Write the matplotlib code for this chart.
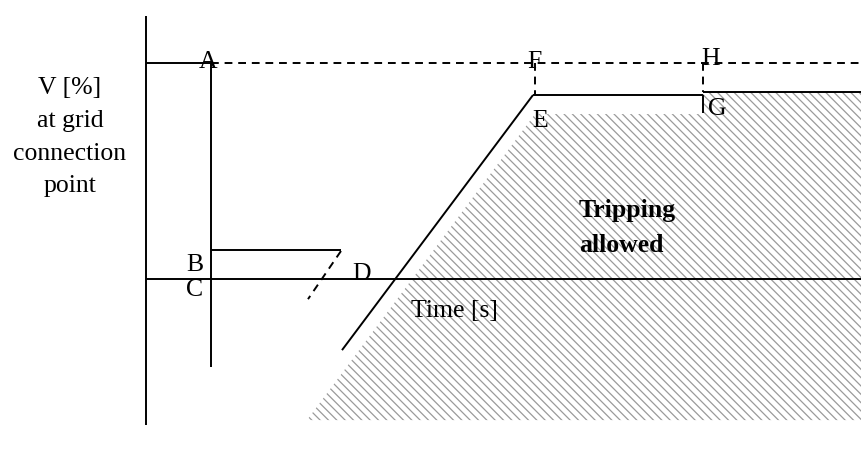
import matplotlib
matplotlib.use('Agg')
import matplotlib.pyplot as plt
from matplotlib import rcParams

rcParams['font.family'] = 'Liberation Serif'
rcParams['font.size'] = 18.5
rcParams['hatch.linewidth'] = 0.9

# time in arbitrary units (0 = fault at A), voltage in % of nominal
v_axis_t = -0.65
v_axis_range = [122, -67.5]
t_end = 6.5

pre_fault_v = 100
fault_v = -40.7          # bottom of the drop line at A
b_level = 13.4
b_end_t = 1.30
d_dash_t = [1.30, 0.97]
d_dash_v = [13.0, -9.3]
ramp_t = [1.31, 3.22]
ramp_v = [-32.9, 85.2]
eg_t = [3.22, 4.92]
eg_v = 85.2
g_drop_v = 76.9
after_g_v = 86.6
f_t = 3.24
h_t = 4.92

trip_t = [0.96, 3.24, 4.92, 4.92, 6.5, 6.5]
trip_v = [-65.3, 76.4, 76.4, 86.6, 86.6, -65.3]

point_names = ['A', 'B', 'C', 'D', 'E', 'F', 'G', 'H']
point_t = [-0.03, -0.16, -0.16, 1.51, 3.29, 3.23, 5.06, 5.00]
point_v = [97.7, 3.7, -7.9, -0.5, 70.4, 97.7, 75.9, 99.1]

ylabel_lines = ['V [%]', 'at grid', 'connection', 'point']
ylabel_v = [85.6, 70.4, 55.1, 40.3]

fig = plt.figure(figsize=(8.61, 4.51), dpi=100)
ax = fig.add_axes([0, 0, 1, 1])
ax.set_xlim(-2.11, 6.5)
ax.set_ylim(-79.6, 129.2)
ax.axis('off')

lw = 1.4
dash = (0, (4, 3))
k = dict(color='black', lw=lw, solid_capstyle='butt')

# tripping area
ax.fill(trip_t, trip_v, fill=False, hatch='\\\\\\\\', edgecolor='#9a9a9a',
        linewidth=0, zorder=1)

# axes
ax.plot([v_axis_t, v_axis_t], v_axis_range, **k)
ax.plot([v_axis_t, t_end], [0, 0], **k)

# pre-fault and nominal voltage
ax.plot([v_axis_t, 0], [pre_fault_v, pre_fault_v], **k)
ax.plot([0, t_end], [pre_fault_v, pre_fault_v], color='black', lw=lw, ls=dash)

# fault profile
ax.plot([0, 0], [pre_fault_v, fault_v], **k)
ax.plot([0, b_end_t], [b_level, b_level], **k)
ax.plot(d_dash_t, d_dash_v, color='black', lw=lw, ls=dash)
ax.plot(ramp_t, ramp_v, **k)
ax.plot(eg_t, [eg_v, eg_v], **k)
ax.plot([h_t, h_t], [eg_v, g_drop_v], **k)
ax.plot([h_t, t_end], [after_g_v, after_g_v], **k)
ax.plot([f_t, f_t], [pre_fault_v, eg_v], color='black', lw=lw, ls=dash)
ax.plot([h_t, h_t], [pre_fault_v, after_g_v], color='black', lw=lw, ls=dash)

for name, t, v in zip(point_names, point_t, point_v):
    ax.text(t, v, name, ha='center', va='baseline', zorder=5)

ax.text(2.43, -17.6, 'Time [s]', ha='center', va='baseline')
ax.text(3.68, 28.7, 'Tripping', ha='left', va='baseline', fontweight='bold')
ax.text(3.68, 12.5, 'allowed', ha='left', va='baseline', fontweight='bold')

for line, v in zip(ylabel_lines, ylabel_v):
    ax.text(-1.41, v, line, ha='center', va='baseline')

fig.savefig('out.png', dpi=100)
